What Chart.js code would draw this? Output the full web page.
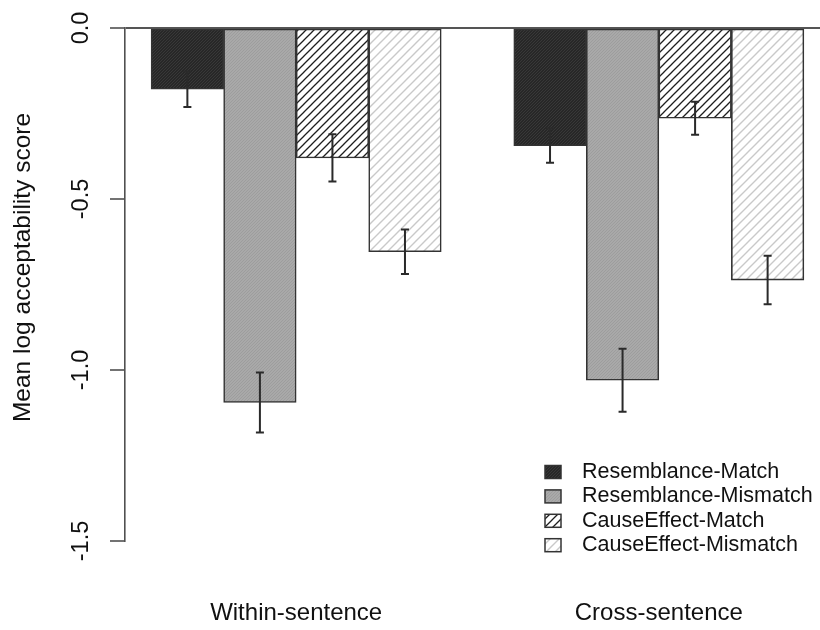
<!DOCTYPE html>
<html>
<head>
<meta charset="utf-8">
<script src="https://cdn.jsdelivr.net/npm/chart.js@4/dist/chart.umd.min.js"></script>
<style>
  html, body { margin: 0; padding: 0; overflow: hidden; background: #fff; width: 820px; height: 630px; }
  #wrap { width: 830px; height: 630px; }
</style>
</head>
<body>
<div id="wrap"><canvas id="c" width="830" height="630"></canvas></div>
<script>
// Groups along the x axis
const categories = ['Within-sentence', 'Cross-sentence'];
// Condition names (one bar per condition in each group)
const seriesNames = ['Resemblance-Match', 'Resemblance-Mismatch', 'CauseEffect-Match', 'CauseEffect-Mismatch'];

// Mean log acceptability scores, [within, cross]
const resemblanceMatch    = [-0.179, -0.344];
const resemblanceMismatch = [-1.095, -1.030];
const causeEffectMatch    = [-0.380, -0.264];
const causeEffectMismatch = [-0.654, -0.737];

// Standard errors, [within, cross]
const resemblanceMatchSE    = [0.052, 0.050];
const resemblanceMismatchSE = [0.088, 0.092];
const causeEffectMatchSE    = [0.069, 0.048];
const causeEffectMismatchSE = [0.065, 0.071];

// Y axis ticks
const yTickValues = [0, -0.5, -1.0, -1.5];
const yTickLabels = ['0.0', '-0.5', '-1.0', '-1.5'];

const yTitle = 'Mean log acceptability score';
const FONT = '"Liberation Sans", Arial, Helvetica, sans-serif';

const seriesValues = [resemblanceMatch, resemblanceMismatch, causeEffectMatch, causeEffectMismatch];
const seriesSE = [resemblanceMatchSE, resemblanceMismatchSE, causeEffectMatchSE, causeEffectMismatchSE];

const canvas = document.getElementById('c');
const mainCtx = canvas.getContext('2d');

// Diagonal line fill ("/" direction) on a square tile
function hatch(bg, fg, size, lw) {
  const t = document.createElement('canvas');
  t.width = t.height = size;
  const g = t.getContext('2d');
  g.fillStyle = bg;
  g.fillRect(0, 0, size, size);
  g.strokeStyle = fg;
  g.lineWidth = lw;
  g.beginPath();
  g.moveTo(-1, size + 1); g.lineTo(size + 1, -1);
  g.moveTo(-size / 2 - 1, size / 2 + 1); g.lineTo(size / 2 + 1, -size / 2 - 1);
  g.moveTo(size / 2 - 1, size * 1.5 + 1); g.lineTo(size * 1.5 + 1, size / 2 - 1);
  g.stroke();
  return mainCtx.createPattern(t, 'repeat');
}

const fills = [
  hatch('#272727', '#3a3a3a', 3, 0.9),
  hatch('#a9a9a9', '#9c9c9c', 3, 0.9),
  hatch('#ffffff', '#1e1e1e', 8, 1.3),
  hatch('#ffffff', '#c9c9c9', 9, 1.4)
];

// Bar layout in axis units: groups of four unit-width bars, one unit gap between groups
const groupStart = categories.map((_, g) => 1 + g * (seriesNames.length + 1));
const groupCenter = groupStart.map(s => s + seriesNames.length / 2);

const datasets = seriesNames.map((name, i) => ({
  label: name,
  data: categories.map((_, g) => ({ x: groupStart[g] + i + 0.5, y: seriesValues[i][g] })),
  se: seriesSE[i],
  backgroundColor: fills[i],
  borderColor: '#333',
  borderWidth: 1.6,
  borderSkipped: false,
  grouped: false,
  barPercentage: 1,
  categoryPercentage: 1
}));

// Error bars (mean ± SE) through the value scale
const errorBars = {
  id: 'errorBars',
  afterDatasetsDraw(chart) {
    const ctx = chart.ctx;
    const ys = chart.scales.y;
    ctx.save();
    ctx.strokeStyle = '#2a2a2a';
    ctx.lineWidth = 2;
    chart.data.datasets.forEach((ds, i) => {
      chart.getDatasetMeta(i).data.forEach((bar, j) => {
        const v = ds.data[j].y, e = ds.se[j];
        const x = bar.x;
        const y1 = ys.getPixelForValue(v + e);
        const y2 = ys.getPixelForValue(v - e);
        ctx.beginPath();
        ctx.moveTo(x, y1); ctx.lineTo(x, y2);
        ctx.moveTo(x - 4, y1); ctx.lineTo(x + 4, y1);
        ctx.moveTo(x - 4, y2); ctx.lineTo(x + 4, y2);
        ctx.stroke();
      });
    });
    ctx.restore();
  }
};

// Y axis title and boxed legend
const annotations = {
  id: 'annotations',
  afterDraw(chart) {
    const ctx = chart.ctx;
    ctx.save();
    ctx.fillStyle = '#111';
    ctx.font = '24.5px ' + FONT;
    ctx.textAlign = 'center';
    ctx.textBaseline = 'middle';
    ctx.translate(23, 267.5);
    ctx.rotate(-Math.PI / 2);
    ctx.fillText(yTitle, 0, 0);
    ctx.restore();

    ctx.save();
    ctx.font = '21.5px ' + FONT;
    ctx.textBaseline = 'middle';
    ctx.textAlign = 'left';
    chart.data.datasets.forEach((ds, i) => {
      const cy = 472 + i * 24.4;
      ctx.fillStyle = ds.backgroundColor;
      ctx.fillRect(545, cy - 6.5, 16, 13);
      ctx.strokeStyle = '#333';
      ctx.lineWidth = 1.5;
      ctx.strokeRect(545, cy - 6.5, 16, 13);
      ctx.fillStyle = '#111';
      ctx.fillText(ds.label, 582, cy);
    });
    ctx.restore();
  }
};

new Chart(canvas, {
  type: 'bar',
  data: { datasets },
  options: {
    responsive: false,
    devicePixelRatio: 1,
    animation: false,
    layout: { padding: { top: 28, left: 0, right: 0, bottom: 0 } },
    plugins: { legend: { display: false }, tooltip: { enabled: false } },
    scales: {
      x: {
        type: 'linear',
        offset: false,
        min: 0.64,
        max: 10.36,
        grid: { display: false },
        border: { display: false },
        afterBuildTicks: s => { s.ticks = groupCenter.map(v => ({ value: v })); },
        afterFit: s => { s.height = 89; },
        ticks: {
          autoSkip: false,
          maxRotation: 0,
          padding: 50,
          color: '#111',
          font: { family: FONT, size: 24 },
          callback: (v, idx) => categories[idx]
        }
      },
      y: {
        type: 'linear',
        min: -1.5,
        max: 0,
        afterBuildTicks: s => { s.ticks = yTickValues.map(v => ({ value: v })); },
        afterFit: s => { s.width = 125; },
        border: { display: true, color: '#505050', width: 1.6 },
        grid: {
          drawOnChartArea: true,
          drawTicks: true,
          tickLength: 15,
          tickColor: '#505050',
          tickWidth: 1.6,
          lineWidth: 2,
          color: c => (c.tick && c.tick.value === 0) ? '#555' : 'rgba(0,0,0,0)'
        },
        ticks: {
          minRotation: 90,
          maxRotation: 90,
          crossAlign: 'center',
          padding: 8,
          color: '#111',
          font: { family: FONT, size: 23.5 },
          callback: (v, idx) => yTickLabels[idx]
        }
      }
    }
  },
  plugins: [errorBars, annotations]
});
</script>
</body>
</html>
